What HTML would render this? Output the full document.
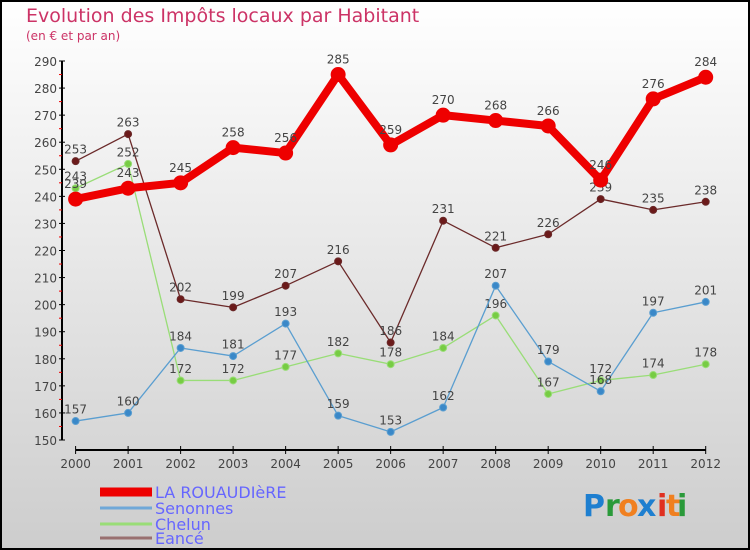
<!DOCTYPE html>
<html><head><meta charset="utf-8"><style>
body{margin:0;}
#c{width:750px;height:550px;position:relative;overflow:hidden;}
svg text{font-family:"DejaVu Sans","Liberation Sans",sans-serif;}
</style></head><body>
<div id="c">
<svg id="s" width="750" height="550" xmlns="http://www.w3.org/2000/svg">
<defs><linearGradient id="bg" x1="0" y1="0" x2="0" y2="1"><stop offset="0" stop-color="#ffffff"/><stop offset="1" stop-color="#cdcdcd"/></linearGradient></defs>
<rect x="1" y="1" width="748" height="548" fill="url(#bg)" stroke="#000" stroke-width="2"/>
<text x="26" y="22" font-size="19" fill="#cc3366">Evolution des Impôts locaux par Habitant</text>
<text x="26" y="40" font-size="12" fill="#cc3366">(en € et par an)</text>
<g id="axes"></g><g id="series"></g>
<g>
<line x1="100" y1="492" x2="152" y2="492" stroke="#ee0000" stroke-width="9"/>
<text x="155" y="498" font-size="16" fill="#6666ff">LA ROUAUDIèRE</text>
<line x1="100" y1="508" x2="152" y2="508" stroke="#6fa8d8" stroke-width="3"/>
<text x="155" y="514" font-size="16" fill="#6666ff">Senonnes</text>
<line x1="100" y1="524" x2="152" y2="524" stroke="#99dd77" stroke-width="3"/>
<text x="155" y="530" font-size="16" fill="#6666ff">Chelun</text>
<line x1="100" y1="538" x2="152" y2="538" stroke="#997070" stroke-width="3"/>
<text x="155" y="544" font-size="16" fill="#6666ff">Eancé</text>
</g>
<g font-size="30" font-weight="bold">
<text x="583" y="516" fill="#1e7fd0">P</text><text x="605" y="516" fill="#2a9a3a">r</text><text x="618" y="516" fill="#f08020">o</text><text x="637" y="516" fill="#1e7fd0">x</text><text x="657" y="516" fill="#e03020">i</text><text x="666" y="516" fill="#f08020">t</text><text x="677" y="516" fill="#2a9a3a">i</text>
</g>
</svg></div>
<script>
const years=["2000","2001","2002","2003","2004","2005","2006","2007","2008","2009","2010","2011","2012"];
const yTicks=[150,160,170,180,190,200,210,220,230,240,250,260,270,280,290];
const laRouaudiere=[239,243,245,258,256,285,259,270,268,266,246,276,284];
const senonnes=[157,160,184,181,193,159,153,162,207,179,168,197,201];
const chelun=[243,252,172,172,177,182,178,184,196,167,172,174,178];
const eance=[253,263,202,199,207,216,186,231,221,226,239,235,238];
const NS="http://www.w3.org/2000/svg";
function X(i){return 75.6+i*(705.7-75.6)/(years.length-1);}
function Y(v){return 440-(v-150)*(440-61)/140;}
function mk(tag,attrs,parent,txt){const e=document.createElementNS(NS,tag);for(const k in attrs)e.setAttribute(k,attrs[k]);if(txt!==undefined)e.textContent=txt;parent.appendChild(e);return e;}
const ax=document.getElementById('axes');
let e=mk('line',{x1:62,y1:Y(290),x2:62,y2:440,stroke:'#000','stroke-width':2},ax);


e=mk('line',{x1:75.6,y1:450,x2:705.7,y2:450,stroke:'#000','stroke-width':2},ax);


yTicks.forEach(t=>{
 mk('line',{x1:59,y1:Y(t),x2:65,y2:Y(t),stroke:'#000'},ax);
 if(t<290)mk('line',{x1:59,y1:Y(t+5),x2:62,y2:Y(t+5),stroke:'#e00'},ax);
 const l=mk('text',{x:57,y:Y(t)+5,'font-size':12,fill:'#444','text-anchor':'end'},ax,String(t));
 
 
});
years.forEach((y,i)=>{
 mk('line',{x1:X(i),y1:446,x2:X(i),y2:454,stroke:'#000'},ax);
 const l=mk('text',{x:X(i),y:468,'font-size':12,fill:'#444','text-anchor':'middle'},ax,y);
 
 
});
const sg=document.getElementById('series');
function draw(name,vals,color,w,r,dot){
 const g=mk('g',{},sg);
 
 
 const p=mk('polyline',{points:vals.map((v,i)=>X(i)+','+Y(v)).join(' '),fill:'none',stroke:color,'stroke-width':w,'stroke-linejoin':'round'},g);
 
 
 vals.forEach((v,i)=>{
  const c=mk('circle',{cx:X(i),cy:Y(v),r:r,fill:dot,stroke:color,'stroke-width':1},g);
  
  
  const t=mk('text',{x:X(i),y:Y(v)-r-4,'font-size':12,fill:'#444','text-anchor':'middle'},g,String(v));
  
  
 });
}
draw('eance',eance,'#6b2a2a',1.3,3.5,'#6b1a1a');
draw('chelun',chelun,'#99dd77',1.3,3.5,'#77cc44');
draw('senonnes',senonnes,'#5a9ed0',1.3,3.5,'#3a88c8');
draw('la-rouaudiere',laRouaudiere,'#ee0000',8,7,'#ee0000');
</script>
</body></html>
